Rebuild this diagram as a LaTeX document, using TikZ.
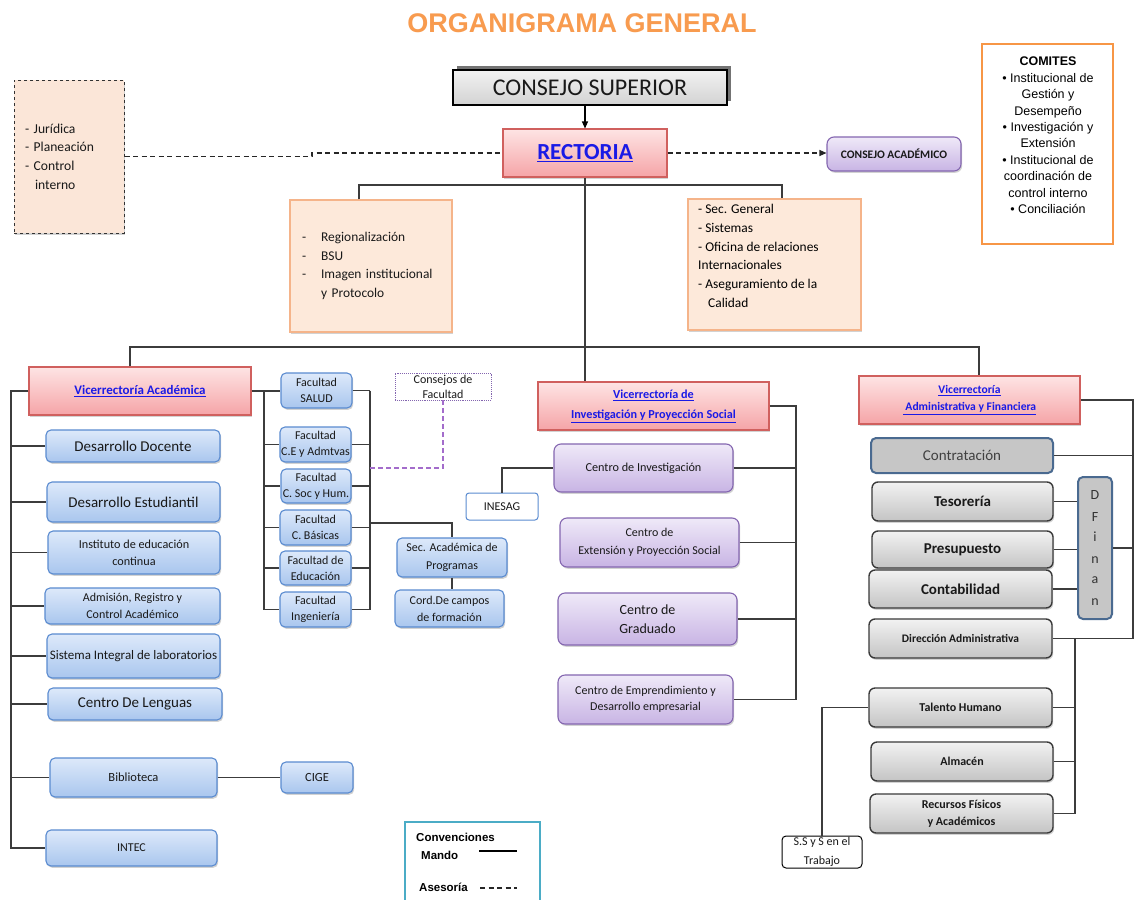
\documentclass[tikz,border=0pt]{standalone}
\usepackage{fontspec}
\setmainfont{Carlito}
\newfontfamily\arialf{Liberation Sans}
\usetikzlibrary{shadows,arrows.meta}
\definecolor{orgT}{HTML}{F89B4F}
\definecolor{lineC}{HTML}{3C3C3C}
\definecolor{lnkc}{HTML}{1A1AE6}
\definecolor{blueT}{HTML}{DDE9FA}
\definecolor{blueB}{HTML}{A9C6EE}
\definecolor{blueD}{HTML}{5A8BD0}
\definecolor{purT}{HTML}{EFE9F8}
\definecolor{purB}{HTML}{C8B4E4}
\definecolor{purD}{HTML}{8466B0}
\definecolor{purDash}{HTML}{A36CCB}
\definecolor{redT}{HTML}{FEE4E4}
\definecolor{redB}{HTML}{F5A4A7}
\definecolor{redD}{HTML}{D0605E}
\definecolor{grayT}{HTML}{F2F2F2}
\definecolor{grayB}{HTML}{C4C4C4}
\definecolor{grayD}{HTML}{3A3A3A}
\definecolor{peach}{HTML}{FDE9DA}
\definecolor{peachL}{HTML}{FBE6D8}
\definecolor{peachD}{HTML}{F5B48A}
\definecolor{steel}{HTML}{4A6A90}
\definecolor{comO}{HTML}{F79646}
\definecolor{teal}{HTML}{4BACC6}
\newcommand\fsz[2]{\fontsize{#1}{#2}\selectfont}
\newcommand\lnk[1]{\textcolor{lnkc}{\underline{#1}}}
\newcommand\boxat[7]{\node[#1,minimum width={#5pt-#3pt},minimum height={#6pt-#4pt}] (#2) at ({(#3+#5)/2},{(#4+#6)/2}) {#7};}
\tikzset{
  shad/.style={drop shadow={shadow xshift=1.2pt,shadow yshift=-1.8pt,opacity=0.35}},
  base/.style={inner sep=1pt, align=center, text=black!90},
  bluebox/.style={base, rounded corners=5pt, draw=blueD, line width=1.1pt, top color=blueT, bottom color=blueB, shad},
  purbox/.style={base, rounded corners=7pt, draw=purD, line width=1.1pt, top color=purT, bottom color=purB, shad},
  redbox/.style={base, draw=redD, line width=1.1pt, top color=redT, bottom color=redB, shad},
  graybox/.style={base, rounded corners=6pt, draw=grayD, line width=1.4pt, top color=grayT, bottom color=grayB, shad},
  steelbox/.style={base, rounded corners=5pt, draw=steel, line width=2pt, fill=gray!45},
  orbox/.style={base, draw=peachD, line width=1.1pt, fill=peach, shad},
  dashbox/.style={base, draw=black!80, dashed, line width=1pt, fill=peachL, shad},
  csbox/.style={base, draw=black, line width=1.6pt, top color=gray!10, bottom color=gray!35,
     drop shadow={shadow xshift=3.5pt,shadow yshift=4pt,opacity=1,fill=black!55}},
  conn/.style={draw=lineC, line width=1.1pt},
  asesoria/.style={draw=black!85, line width=1.1pt, dash pattern=on 5pt off 3.5pt},
  tip/.style={-{Triangle[length=7pt,width=6pt]}}
}
\begin{document}
\begin{tikzpicture}[x=1pt,y=-1pt]
\useasboundingbox (0,0) rectangle (1134,899);
\fill[white] (0,0) rectangle (1134,899);

\node[font=\arialf\bfseries\fsz{27}{30}, text=orgT] (title) at (582,23) {ORGANIGRAMA GENERAL};

% top level
\boxat{dashbox, font=\fsz{13.6}{18.7}, text width=88pt, align=left}{legal}{14}{80}{124}{233}{- Jurídica\\- Planeación\\- Control\\\hspace*{10pt}interno}
\boxat{csbox, font=\fsz{24}{26}}{cs}{453}{70}{727}{105}{CONSEJO SUPERIOR}
\boxat{redbox, font=\bfseries\fsz{23}{26}}{rec}{503}{129}{667}{177}{\lnk{RECTORIA}}
\boxat{purbox, font=\bfseries\fsz{11.5}{14}}{cac}{827}{137}{961}{171}{CONSEJO ACADÉMICO}
\boxat{base, draw=comO, line width=2.5pt, fill=white}{com}{982}{44}{1113}{244}{}
\node[font=\arialf\fsz{12.5}{16.4}, align=center, anchor=north, inner sep=1pt] (comT) at (1048,56)
  {{\bfseries COMITES}\\• Institucional de\\Gestión y\\Desempeño\\• Investigación y\\Extensión\\• Institucional de\\coordinación de\\control interno\\• Conciliación};

\boxat{orbox, font=\fsz{13.4}{18.5}, align=left, text width=138pt, inner xsep=12pt}{lo}{290}{200}{452}{332}%
  {\begin{tabular}{@{}l@{\hspace{15pt}}l@{}}-&Regionalización\\-&BSU\\-&Imagen institucional\\&y Protocolo\end{tabular}}
\boxat{orbox}{ro}{688}{199}{861}{330}{}
\node[font=\fsz{13.4}{18.8}, align=left, anchor=north west, inner sep=1pt] (roT) at (697,203)
  {- Sec. General\\- Sistemas\\- Oficina de relaciones\\Internacionales\\- Aseguramiento de la\\\hspace*{10pt}Calidad};

% vicerrectorias
\boxat{redbox, font=\bfseries\fsz{13}{16}}{va}{29}{367}{251}{415}{\lnk{Vicerrectoría Académica}}
\boxat{redbox, font=\bfseries\fsz{12.2}{20}}{vips}{538}{382}{769}{430}{\lnk{Vicerrectoría de}\\\lnk{Investigación y Proyección Social}}
\boxat{redbox, font=\bfseries\fsz{11.6}{17}}{vaf}{859}{376}{1080}{424}{\lnk{Vicerrectoría}\\\lnk{ Administrativa y Financiera}}

% academica column
\boxat{bluebox, font=\fsz{15}{18}}{dd}{46}{430}{220}{462}{Desarrollo Docente}
\boxat{bluebox, font=\fsz{15}{18}}{de}{47}{482}{220}{522}{Desarrollo Estudiantil}
\boxat{bluebox, font=\fsz{12.2}{17}}{iec}{48}{531}{220}{574}{Instituto de educación\\continua}
\boxat{bluebox, font=\fsz{12}{17}}{adm}{45}{588}{220}{624}{Admisión, Registro y\\Control Académico}
\boxat{bluebox, font=\fsz{13}{16}}{sil}{47}{634}{220}{678}{Sistema Integral de laboratorios}
\boxat{bluebox, font=\fsz{15}{18}}{cdl}{48}{688}{222}{720}{Centro De Lenguas}
\boxat{bluebox, font=\fsz{12.5}{15}}{bib}{50}{758}{217}{797}{Biblioteca}
\boxat{bluebox, font=\fsz{12.5}{15}}{cige}{281}{762}{353}{793}{CIGE}
\boxat{bluebox, font=\fsz{12}{15}}{intec}{46}{830}{217}{866}{INTEC}

% faculties
\boxat{bluebox, font=\fsz{12}{16}}{fsalud}{281}{373}{352}{408}{Facultad\\SALUD}
\boxat{bluebox, font=\fsz{12}{16}}{fce}{280}{427}{351}{462}{Facultad\\C.E y Admtvas}
\boxat{bluebox, font=\fsz{12}{16}}{fsoc}{281}{469}{351}{503}{Facultad\\C. Soc y Hum.}
\boxat{bluebox, font=\fsz{12}{16}}{fbas}{280}{510}{351}{545}{Facultad\\C. Básicas}
\boxat{bluebox, font=\fsz{12}{16}}{fedu}{280}{551}{351}{585}{Facultad de\\Educación}
\boxat{bluebox, font=\fsz{12}{16}}{fing}{280}{592}{351}{627}{Facultad\\Ingeniería}
\boxat{base, draw=purD, densely dotted, line width=0.9pt, fill=white, font=\fsz{12}{15}}{cf}{395}{373}{491}{400}{Consejos de\\Facultad}
\boxat{bluebox, font=\fsz{12}{18}}{sap}{397}{538}{507}{577}{Sec. Académica de\\Programas}
\boxat{bluebox, font=\fsz{12}{17}}{cord}{395}{590}{504}{627}{Cord.De campos\\de formación}
\boxat{base, rounded corners=3pt, draw=blueD, line width=1pt, fill=white, font=\fsz{12}{15}}{inesag}{466}{493}{538}{520}{INESAG}

% investigacion column
\boxat{purbox, font=\fsz{12.2}{15}}{ci}{554}{444}{733}{492}{Centro de Investigación}
\boxat{purbox, font=\fsz{12}{18}}{ce}{560}{518}{739}{567}{Centro de\\Extensión y Proyección Social}
\boxat{purbox, font=\fsz{14}{19}}{cg}{558}{593}{737}{645}{Centro de\\Graduado}
\boxat{purbox, font=\fsz{12}{16.5}}{cem}{558}{675}{733}{724}{Centro de Emprendimiento y\\Desarrollo empresarial}

% administrativa column
\boxat{steelbox, font=\fsz{15}{18}, text=black!75}{contr}{871}{438}{1053}{473}{Contratación}
\boxat{graybox, font=\bfseries\fsz{15}{18}}{teso}{872}{482}{1053}{521}{Tesorería}
\boxat{graybox, font=\bfseries\fsz{15}{18}}{pres}{872}{531}{1053}{568}{Presupuesto}
\boxat{graybox, font=\bfseries\fsz{15}{18}}{conta}{869}{570}{1052}{608}{Contabilidad}
\boxat{steelbox, font=\fsz{14}{21}, text=black!80}{dfin}{1078}{477}{1112}{619}{D\\F\\i\\n\\a\\n}
\boxat{graybox, font=\bfseries\fsz{11.5}{14}}{dir}{869}{619}{1052}{658}{Dirección Administrativa}
\boxat{graybox, font=\bfseries\fsz{12}{15}}{th}{869}{688}{1052}{727}{Talento Humano}
\boxat{graybox, font=\bfseries\fsz{12}{15}}{alm}{871}{742}{1053}{781}{Almacén}
\boxat{graybox, font=\bfseries\fsz{12}{17}}{rf}{870}{794}{1053}{833}{Recursos Físicos\\y Académicos}
\boxat{base, rounded corners=4pt, draw=black, line width=1pt, fill=white, font=\fsz{12}{19}}{ssys}{782}{836}{862}{868}{S.S y S en el\\Trabajo}

% legend
\boxat{base, draw=teal, line width=2pt, fill=white}{conv}{405}{822}{540}{906}{}
\node[font=\arialf\bfseries\fsz{11.5}{13}, anchor=west, inner sep=0pt] (convT) at (416,837) {Convenciones};
\node[font=\arialf\bfseries\fsz{11.5}{13}, anchor=west, inner sep=0pt] (mandoT) at (421,855) {Mando};
\node[font=\arialf\bfseries\fsz{11.5}{13}, anchor=west, inner sep=0pt] (asesT) at (419,887) {Asesoría};
\coordinate (m1) at (479,851); \coordinate (m2) at (517,851);
\coordinate (a1) at (480,888); \coordinate (a2) at (517,888);
\draw[conn, draw=black] (m1) -- (m2);
\draw[asesoria] (a1) -- (a2);

% helper coordinates
\coordinate (stepc) at (312,0);
\coordinate (topbus) at (0,185);
\coordinate (bus) at (0,347);
\coordinate (spA) at (11,0);
\coordinate (spF) at (264,0);
\coordinate (spF2) at (370,0);
\coordinate (cfj) at (0,468);
\coordinate (secj) at (0,523);
\coordinate (spV) at (796,0);
\coordinate (spR) at (1133,0);
\coordinate (spL) at (1075,0);

% top connectors
\draw[conn, draw=black, tip] (rec.north |- cs.south) -- (rec.north);
\draw[asesoria] (legal.east) -- (legal.east -| stepc) -- (stepc |- rec.west) -- (rec.west);
\draw[asesoria, tip] (rec.east) -- (rec.east -| cac.west);
\draw[conn] ([xshift=-12pt]lo.north) -- ([xshift=-12pt]lo.north |- topbus) -- ([xshift=7.5pt]ro.north |- topbus) -- ([xshift=7.5pt]ro.north);
\draw[conn] (rec.south) -- (rec.south |- vips.north);
\draw[conn] ([xshift=-10pt]va.north) -- ([xshift=-10pt]va.north |- bus) -- ([xshift=9.5pt]vaf.north |- bus) -- ([xshift=9.5pt]vaf.north);

% academica
\draw[conn] (va.west) -| (spA |- intec.west) -- (intec.west);
\foreach \n in {dd,de,iec,adm,sil,cdl,bib} \draw[conn] (spA |- \n.west) -- (\n.west);
\draw[conn] (bib.east) -- (cige.west);
\draw[conn] (va.east) -- (va.east -| fsalud.west);
\draw[conn] (spF |- fsalud.west) -- (spF |- fing.west);
\draw[conn] (spF2 |- fsalud.east) -- (spF2 |- fing.east);
\foreach \n in {fsalud,fce,fsoc,fbas,fedu,fing} {
  \draw[conn] (spF |- \n.west) -- (\n.west);
  \draw[conn] (\n.east) -- (spF2 |- \n.east);
}
\draw[draw=purDash, line width=1.1pt, dash pattern=on 5pt off 3pt] (cf.south) -- (cf.south |- cfj) -- (spF2 |- cfj);
\draw[conn] (spF2 |- secj) -| (sap.north);
\draw[conn] (sap.south) -- (sap.south |- cord.north);
\draw[conn] (inesag.north) |- (ci.west);

% investigacion
\draw[conn] (vips.east) -| (spV |- cem.east) -- (cem.east);
\foreach \n in {ci,ce,cg} \draw[conn] (\n.east) -- (spV |- \n.east);

% administrativa
\draw[conn] (vaf.east) -| (spR |- dir.east) -- (dir.east);
\foreach \n in {contr,dfin} \draw[conn] (\n.east) -- (spR |- \n.east);
\foreach \n in {teso,pres,conta} \draw[conn] (\n.east) -- (\n.east -| dfin.west);
\draw[conn] (spL |- dir.east) -- (spL |- rf.east);
\foreach \n in {th,alm,rf} \draw[conn] (\n.east) -- (spL |- \n.east);
\draw[conn] (th.west) -| (ssys.north);
\end{tikzpicture}
\end{document}
